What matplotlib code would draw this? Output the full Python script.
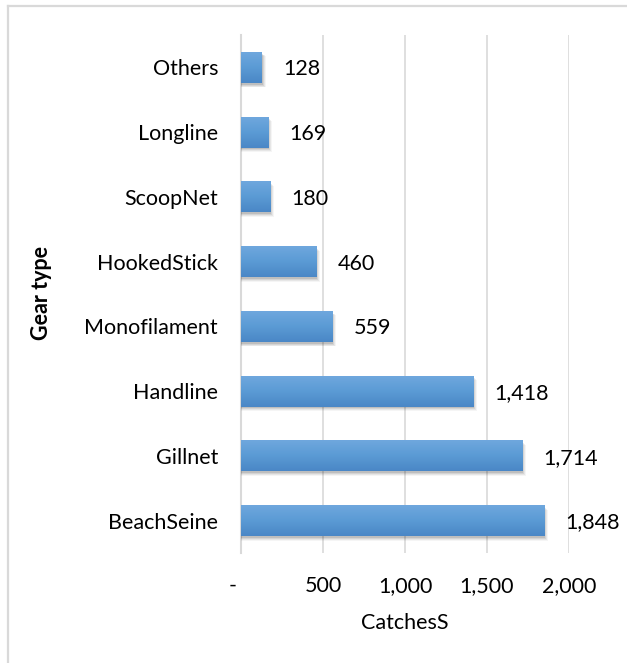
import matplotlib
matplotlib.use("Agg")
import matplotlib.pyplot as plt
import numpy as np
from matplotlib.lines import Line2D
from matplotlib.colors import LinearSegmentedColormap

plt.rcParams['font.family'] = ['Lato', 'DejaVu Sans']

gears = ["BeachSeine", "Gillnet", "Handline", "Monofilament",
         "HookedStick", "ScoopNet", "Longline", "Others"]
catches = [1848, 1714, 1418, 559, 460, 180, 169, 128]
xticks = [0, 500, 1000, 1500, 2000]
xtick_labels = ["-   ", "500", "1,000", "1,500", "2,000"]

FS = 15.5
W, H = 627, 663
fig = plt.figure(figsize=(W / 100, H / 100), dpi=100)
ax = fig.add_axes([241 / W, 1 - 553 / H, (569 - 241) / W, (553 - 35) / H])

y = np.arange(len(gears))
bar_h = 0.48

bars = ax.barh(y, catches, height=bar_h, color="none", edgecolor="none", zorder=3)

# soft drop shadow under each bar
dx = 2.5 * 2000 / (569 - 241)
dy = 3.0 * 7.99 / (553 - 35)
for v, yy in zip(catches, y):
    for k, a in zip(range(4), [0.10, 0.08, 0.06, 0.04]):
        ax.add_patch(plt.Rectangle((0, yy - bar_h / 2 - dy * (0.6 + 0.3 * k)),
                                   v + dx * (0.3 + 0.4 * k), bar_h,
                                   facecolor="black", alpha=a, edgecolor="none",
                                   zorder=2))

# vertical gradient fill for bars
cmap = LinearSegmentedColormap.from_list(
    "bar", ["#4a87c6", "#5b9bd5", "#70a8de"])
grad = np.linspace(0, 1, 64).reshape(-1, 1)
for b in bars:
    x0, y0 = b.get_x(), b.get_y()
    w, h = b.get_width(), b.get_height()
    im = ax.imshow(grad, cmap=cmap, aspect="auto", origin="lower",
                   extent=[x0, x0 + w, y0, y0 + h], zorder=4,
                   interpolation="bilinear")
    clip = plt.Rectangle((x0, y0), w, h, transform=ax.transData)
    im.set_clip_path(clip)

# value labels
for v, yy in zip(catches, y):
    ax.text(v + 21 * 2000 / (569 - 241), yy - 0.03, f"{v:,}", va="center",
            ha="left", fontsize=FS, color="black", zorder=5)

ax.set_xlim(0, 2000)
ax.set_ylim(-0.5, len(gears) - 0.5)
ax.set_xticks(xticks)
ax.set_xticklabels(xtick_labels, fontsize=FS)
ax.set_yticks(y)
ax.set_yticklabels(gears, fontsize=FS)
ax.tick_params(axis="both", length=0)
ax.tick_params(axis="x", pad=16.5)
ax.tick_params(axis="y", pad=16.5)

ax.grid(axis="x", color="#d9d9d9", linewidth=1.2, zorder=0)
ax.set_axisbelow(True)
for s in ["top", "right", "bottom"]:
    ax.spines[s].set_visible(False)
ax.spines["left"].set_color("#d9d9d9")
ax.spines["left"].set_linewidth(1.5)
ax.spines["left"].set_zorder(1)

ax.set_xlabel("CatchesS", fontsize=FS, labelpad=12)
fig.text(41 / W, 1 - 293 / H, "Gear type", rotation=90, fontsize=FS,
         fontweight="bold", ha="center", va="center")

# outer chart frame
fig.add_artist(Line2D([7.5 / W, 1], [1 - 5.5 / H, 1 - 5.5 / H],
                      transform=fig.transFigure, color="#d9d9d9", linewidth=1.6))
fig.add_artist(Line2D([7.5 / W, 7.5 / W], [0, 1 - 5.5 / H],
                      transform=fig.transFigure, color="#d9d9d9", linewidth=1.6))

fig.savefig("out.png", dpi=100, facecolor="white")
